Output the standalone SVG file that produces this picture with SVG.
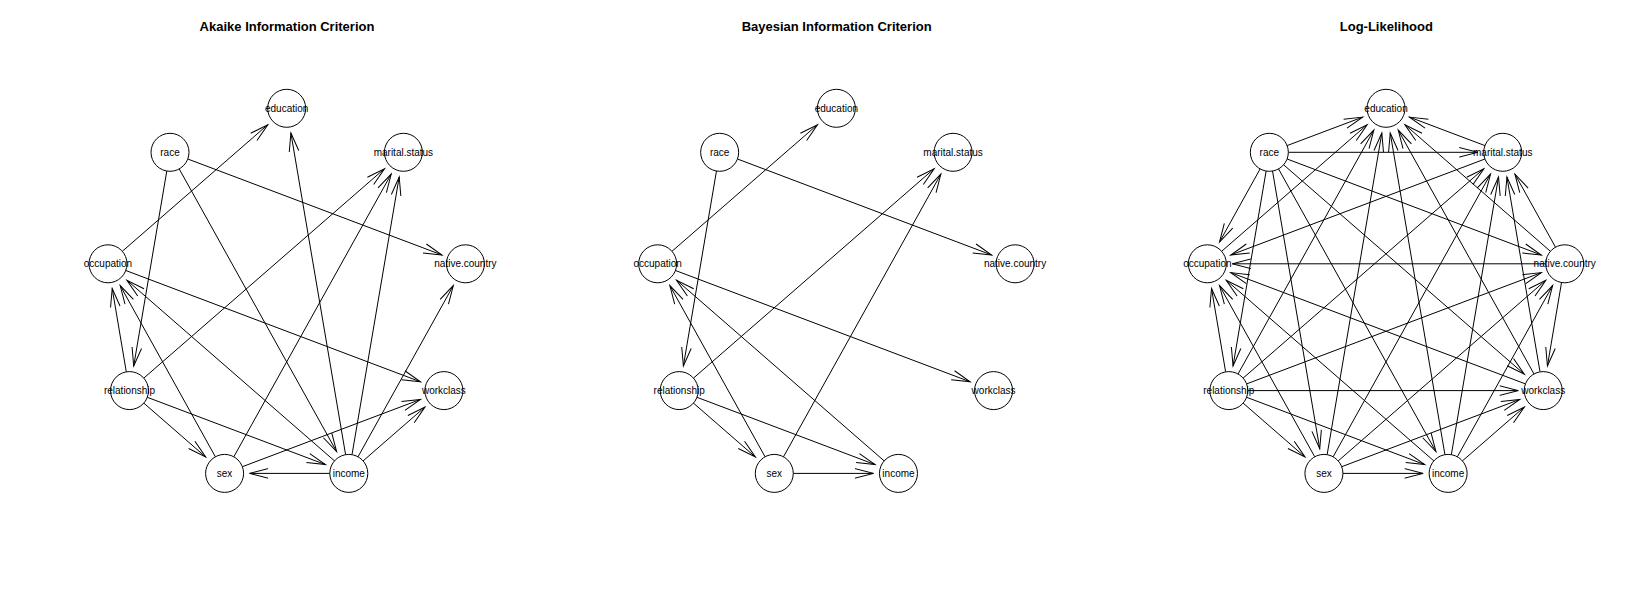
<svg xmlns="http://www.w3.org/2000/svg" width="1649" height="607" viewBox="0 0 1649 607">
<defs>
<style>
.t{font-family:"Liberation Sans",Arial,sans-serif;font-size:13px;font-weight:bold;text-anchor:middle;fill:#000}
.n circle{fill:#fff;stroke:#000;stroke-width:1}
.n text{font-family:"Liberation Sans",Arial,sans-serif;font-size:10px;text-anchor:middle;fill:#000}
.e line{stroke:#000;stroke-width:1;fill:none;marker-end:url(#ah)}
</style>
<marker id="ah" markerUnits="userSpaceOnUse" orient="auto" viewBox="-22 -10 24 20" markerWidth="24" markerHeight="20" refX="0" refY="0">
<path d="M-18.5,-4.8L0,0L-18.5,4.8" fill="none" stroke="#000" stroke-width="1"/>
</marker>
</defs>
<rect width="1649" height="607" fill="#fff"/>

<g id="panel-aic">
<text class="t" x="287" y="30.5">Akaike Information Criterion</text>
<g id="aic-edges" class="e">
<line x1="122.3" y1="251.3" x2="267.8" y2="124.7"/>
<line x1="345.6" y1="454.7" x2="290.9" y2="133.0"/>
<line x1="187.8" y1="159.0" x2="442.0" y2="255.0"/>
<line x1="166.8" y1="171.0" x2="133.7" y2="366.0"/>
<line x1="179.2" y1="168.9" x2="336.6" y2="451.6"/>
<line x1="143.8" y1="378.1" x2="384.5" y2="168.7"/>
<line x1="233.8" y1="456.8" x2="391.2" y2="174.1"/>
<line x1="352.0" y1="454.7" x2="399.2" y2="177.0"/>
<line x1="358.0" y1="456.8" x2="453.3" y2="285.6"/>
<line x1="125.8" y1="270.5" x2="420.5" y2="381.8"/>
<line x1="126.3" y1="371.9" x2="112.2" y2="288.5"/>
<line x1="215.4" y1="456.8" x2="120.2" y2="285.6"/>
<line x1="334.5" y1="460.9" x2="126.9" y2="280.2"/>
<line x1="143.8" y1="403.1" x2="205.7" y2="457.0"/>
<line x1="147.3" y1="397.3" x2="325.4" y2="464.6"/>
<line x1="242.4" y1="466.7" x2="420.5" y2="399.4"/>
<line x1="363.1" y1="460.9" x2="425.0" y2="407.0"/>
<line x1="329.8" y1="473.4" x2="249.6" y2="473.4"/>
</g>
<g id="aic-education" class="n"><circle cx="286.7" cy="108.3" r="19"/><text x="286.7" y="111.8">education</text></g>
<g id="aic-marital.status" class="n"><circle cx="403.4" cy="152.3" r="19"/><text x="403.4" y="155.8">marital.status</text></g>
<g id="aic-native.country" class="n"><circle cx="465.4" cy="263.8" r="19"/><text x="465.4" y="267.3">native.country</text></g>
<g id="aic-workclass" class="n"><circle cx="443.9" cy="390.6" r="19"/><text x="443.9" y="394.1">workclass</text></g>
<g id="aic-income" class="n"><circle cx="348.8" cy="473.4" r="19"/><text x="348.8" y="476.9">income</text></g>
<g id="aic-sex" class="n"><circle cx="224.6" cy="473.4" r="19"/><text x="224.6" y="476.9">sex</text></g>
<g id="aic-relationship" class="n"><circle cx="129.5" cy="390.6" r="19"/><text x="129.5" y="394.1">relationship</text></g>
<g id="aic-occupation" class="n"><circle cx="108.0" cy="263.8" r="19"/><text x="108.0" y="267.3">occupation</text></g>
<g id="aic-race" class="n"><circle cx="170.0" cy="152.3" r="19"/><text x="170.0" y="155.8">race</text></g>
</g>

<g id="panel-bic" transform="translate(549.67,0)">
<text class="t" x="287" y="30.5">Bayesian Information Criterion</text>
<g id="bic-edges" class="e">
<line x1="122.3" y1="251.3" x2="267.8" y2="124.7"/>
<line x1="187.8" y1="159.0" x2="442.0" y2="255.0"/>
<line x1="166.8" y1="171.0" x2="133.7" y2="366.0"/>
<line x1="143.8" y1="378.1" x2="384.5" y2="168.7"/>
<line x1="233.8" y1="456.8" x2="391.2" y2="174.1"/>
<line x1="125.8" y1="270.5" x2="420.5" y2="381.8"/>
<line x1="215.4" y1="456.8" x2="120.2" y2="285.6"/>
<line x1="334.5" y1="460.9" x2="126.9" y2="280.2"/>
<line x1="143.8" y1="403.1" x2="205.7" y2="457.0"/>
<line x1="147.3" y1="397.3" x2="325.4" y2="464.6"/>
<line x1="243.6" y1="473.4" x2="323.8" y2="473.4"/>
</g>
<g id="bic-education" class="n"><circle cx="286.7" cy="108.3" r="19"/><text x="286.7" y="111.8">education</text></g>
<g id="bic-marital.status" class="n"><circle cx="403.4" cy="152.3" r="19"/><text x="403.4" y="155.8">marital.status</text></g>
<g id="bic-native.country" class="n"><circle cx="465.4" cy="263.8" r="19"/><text x="465.4" y="267.3">native.country</text></g>
<g id="bic-workclass" class="n"><circle cx="443.9" cy="390.6" r="19"/><text x="443.9" y="394.1">workclass</text></g>
<g id="bic-income" class="n"><circle cx="348.8" cy="473.4" r="19"/><text x="348.8" y="476.9">income</text></g>
<g id="bic-sex" class="n"><circle cx="224.6" cy="473.4" r="19"/><text x="224.6" y="476.9">sex</text></g>
<g id="bic-relationship" class="n"><circle cx="129.5" cy="390.6" r="19"/><text x="129.5" y="394.1">relationship</text></g>
<g id="bic-occupation" class="n"><circle cx="108.0" cy="263.8" r="19"/><text x="108.0" y="267.3">occupation</text></g>
<g id="bic-race" class="n"><circle cx="170.0" cy="152.3" r="19"/><text x="170.0" y="155.8">race</text></g>
</g>

<g id="panel-ll" transform="translate(1099.33,0)">
<text class="t" x="287" y="30.5">Log-Likelihood</text>
<g id="ll-edges" class="e">
<line x1="166.8" y1="171.0" x2="133.7" y2="366.0"/>
<line x1="173.2" y1="171.0" x2="220.4" y2="448.8"/>
<line x1="179.2" y1="168.9" x2="336.6" y2="451.6"/>
<line x1="187.8" y1="159.0" x2="442.0" y2="255.0"/>
<line x1="184.3" y1="164.8" x2="425.0" y2="374.2"/>
<line x1="189.0" y1="152.3" x2="378.4" y2="152.3"/>
<line x1="160.8" y1="168.9" x2="120.2" y2="242.0"/>
<line x1="187.8" y1="145.6" x2="263.3" y2="117.1"/>
<line x1="143.8" y1="403.1" x2="205.7" y2="457.0"/>
<line x1="147.3" y1="397.3" x2="325.4" y2="464.6"/>
<line x1="147.3" y1="383.9" x2="442.0" y2="272.6"/>
<line x1="148.5" y1="390.6" x2="418.9" y2="390.6"/>
<line x1="143.8" y1="378.1" x2="384.5" y2="168.7"/>
<line x1="126.3" y1="371.9" x2="112.2" y2="288.5"/>
<line x1="138.7" y1="374.0" x2="274.5" y2="130.1"/>
<line x1="243.6" y1="473.4" x2="323.8" y2="473.4"/>
<line x1="238.9" y1="460.9" x2="446.5" y2="280.2"/>
<line x1="242.4" y1="466.7" x2="420.5" y2="399.4"/>
<line x1="233.8" y1="456.8" x2="391.2" y2="174.1"/>
<line x1="215.4" y1="456.8" x2="120.2" y2="285.6"/>
<line x1="227.8" y1="454.7" x2="282.5" y2="133.0"/>
<line x1="358.0" y1="456.8" x2="453.3" y2="285.6"/>
<line x1="363.1" y1="460.9" x2="425.0" y2="407.0"/>
<line x1="352.0" y1="454.7" x2="399.2" y2="177.0"/>
<line x1="334.5" y1="460.9" x2="126.9" y2="280.2"/>
<line x1="345.6" y1="454.7" x2="290.9" y2="133.0"/>
<line x1="462.2" y1="282.5" x2="448.1" y2="366.0"/>
<line x1="456.2" y1="247.2" x2="415.6" y2="174.2"/>
<line x1="446.4" y1="263.8" x2="133.0" y2="263.8"/>
<line x1="451.1" y1="251.3" x2="305.6" y2="124.7"/>
<line x1="440.7" y1="371.9" x2="407.6" y2="177.0"/>
<line x1="426.1" y1="383.9" x2="131.4" y2="272.6"/>
<line x1="434.7" y1="374.0" x2="298.9" y2="130.1"/>
<line x1="385.6" y1="159.0" x2="131.4" y2="255.0"/>
<line x1="385.6" y1="145.6" x2="310.1" y2="117.1"/>
<line x1="122.3" y1="251.3" x2="267.8" y2="124.7"/>
</g>
<g id="ll-education" class="n"><circle cx="286.7" cy="108.3" r="19"/><text x="286.7" y="111.8">education</text></g>
<g id="ll-marital.status" class="n"><circle cx="403.4" cy="152.3" r="19"/><text x="403.4" y="155.8">marital.status</text></g>
<g id="ll-native.country" class="n"><circle cx="465.4" cy="263.8" r="19"/><text x="465.4" y="267.3">native.country</text></g>
<g id="ll-workclass" class="n"><circle cx="443.9" cy="390.6" r="19"/><text x="443.9" y="394.1">workclass</text></g>
<g id="ll-income" class="n"><circle cx="348.8" cy="473.4" r="19"/><text x="348.8" y="476.9">income</text></g>
<g id="ll-sex" class="n"><circle cx="224.6" cy="473.4" r="19"/><text x="224.6" y="476.9">sex</text></g>
<g id="ll-relationship" class="n"><circle cx="129.5" cy="390.6" r="19"/><text x="129.5" y="394.1">relationship</text></g>
<g id="ll-occupation" class="n"><circle cx="108.0" cy="263.8" r="19"/><text x="108.0" y="267.3">occupation</text></g>
<g id="ll-race" class="n"><circle cx="170.0" cy="152.3" r="19"/><text x="170.0" y="155.8">race</text></g>
</g>
</svg>
